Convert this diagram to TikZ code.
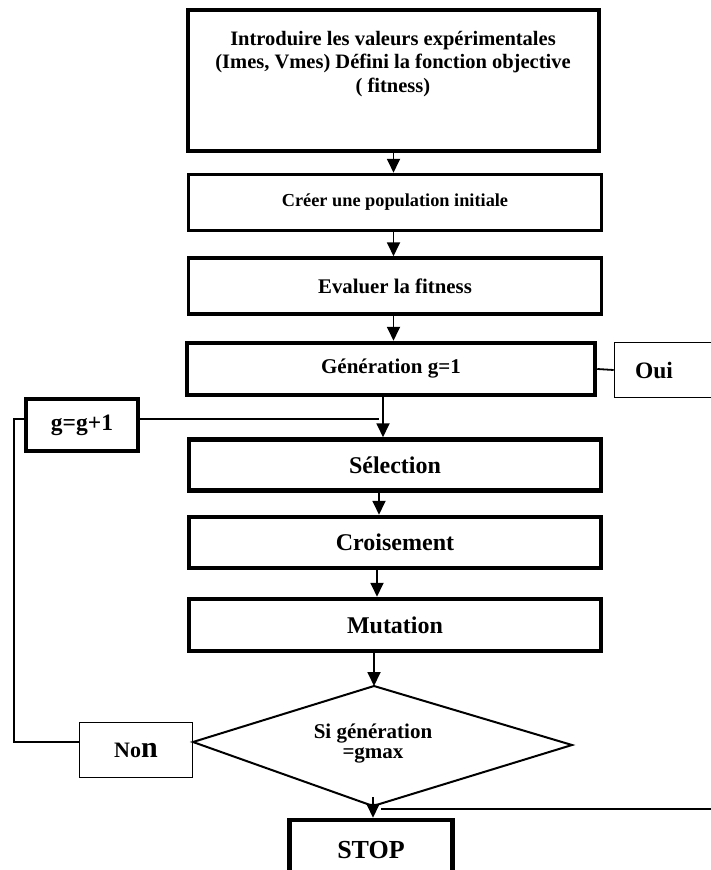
\documentclass[tikz,border=0pt]{standalone}
\usepackage{fontspec}
\setmainfont{Liberation Serif}
\usetikzlibrary{arrows.meta}
\begin{document}
\begin{tikzpicture}[x=1pt,y=-1pt,
  box/.style={draw, line width=4.5pt, rectangle, inner sep=0pt, font=\bfseries},
  thinbox/.style={draw, line width=1.6pt, rectangle, inner sep=0pt, font=\bfseries},
  conn/.style={line width=1.8pt},
  arr/.style={conn, -{Triangle[width=13pt,length=14pt]}},
  fs/.style={font=\bfseries\fontsize{#1}{#1}\selectfont}
]
\useasboundingbox (0,0) rectangle (711,870);

% boxes
\node[box, minimum width=411pt, minimum height=141pt] (intro) at (393.5,80.5) {};
\node[align=center, font=\bfseries\fontsize{20.5}{23.5}\selectfont] (introtxt) at (393,64)
  {Introduire les valeurs expérimentales\\(Imes, Vmes) Défini la fonction objective\\( fitness)};
\node[box, line width=3.5pt, minimum width=413pt, minimum height=56pt, fs=18.3] (pop) at (395,202.5) {Créer une population initiale};
\node[box, line width=3.5pt, minimum width=413pt, minimum height=56pt, fs=20.8] (eval) at (395,286) {Evaluer la fitness};
\node[box, minimum width=408pt, minimum height=52pt, fs=21] (gen) at (391,369) {Génération g=1};
\node[thinbox, minimum width=105pt, minimum height=55pt, fs=23.5] (oui) at (667,370) {Oui\kern26pt};
\node[box, minimum width=112pt, minimum height=52pt, fs=23.5] (gp1) at (82,425) {g=g+1};
\node[box, minimum width=412pt, minimum height=51pt, fs=24] (sel) at (395,465) {Sélection};
\node[box, minimum width=412pt, minimum height=51pt, fs=24] (croi) at (395,542.5) {Croisement};
\node[box, minimum width=412pt, minimum height=52pt, fs=24] (mut) at (395,625) {Mutation};
\node[thinbox, minimum width=113pt, minimum height=55pt, fs=22] (non) at (136,750) {No{\fontsize{30}{30}\selectfont n}};
\node[box, minimum width=163pt, minimum height=60pt, fs=26] (stop) at (371,850) {STOP};

% decision diamond
\coordinate (dT) at (374,686);
\coordinate (dR) at (572,745);
\coordinate (dB) at (373,806);
\coordinate (dL) at (193,742);
\draw[line width=2pt, line join=miter] (dT) -- (dR) -- (dB) -- (dL) -- cycle;
\node[align=center, font=\bfseries\fontsize{21}{20}\selectfont] (dtxt) at (373,744) {Si génération\\=gmax};

% connectors
\coordinate (gx) at (383,0);
\coordinate (sx) at (379,0);
\coordinate (cx) at (377,0);
\coordinate (gjoin) at (379,419);
\coordinate (lb) at (14,742);
\coordinate (lt) at (14,419);
\coordinate (rA) at (381,809);
\coordinate (rB) at (716,809);

\draw[arr] (intro.south) -- (intro.south |- pop.north);
\draw[arr] (intro.south |- pop.south) -- (intro.south |- eval.north);
\draw[arr] (intro.south |- eval.south) -- (intro.south |- gen.north);
\draw[conn] (gen.east) -- (oui.west);
\draw[arr] (gx |- gen.south) -- (gx |- sel.north);
\draw[conn] ([yshift=6pt]gp1.east) -- (gjoin);
\draw[arr] (sx |- sel.south) -- (sx |- croi.north);
\draw[arr] (cx |- croi.south) -- (cx |- mut.north);
\draw[arr] (dT |- mut.south) -- (dT);
\draw[conn] ([yshift=8pt]non.west) -- (lb) -- (lt) -- ([yshift=6pt]gp1.west);
\draw[arr] ([yshift=9pt]dB) -- (dB |- stop.north);
\draw[conn] (rB) -- (rA);
\end{tikzpicture}
\end{document}
